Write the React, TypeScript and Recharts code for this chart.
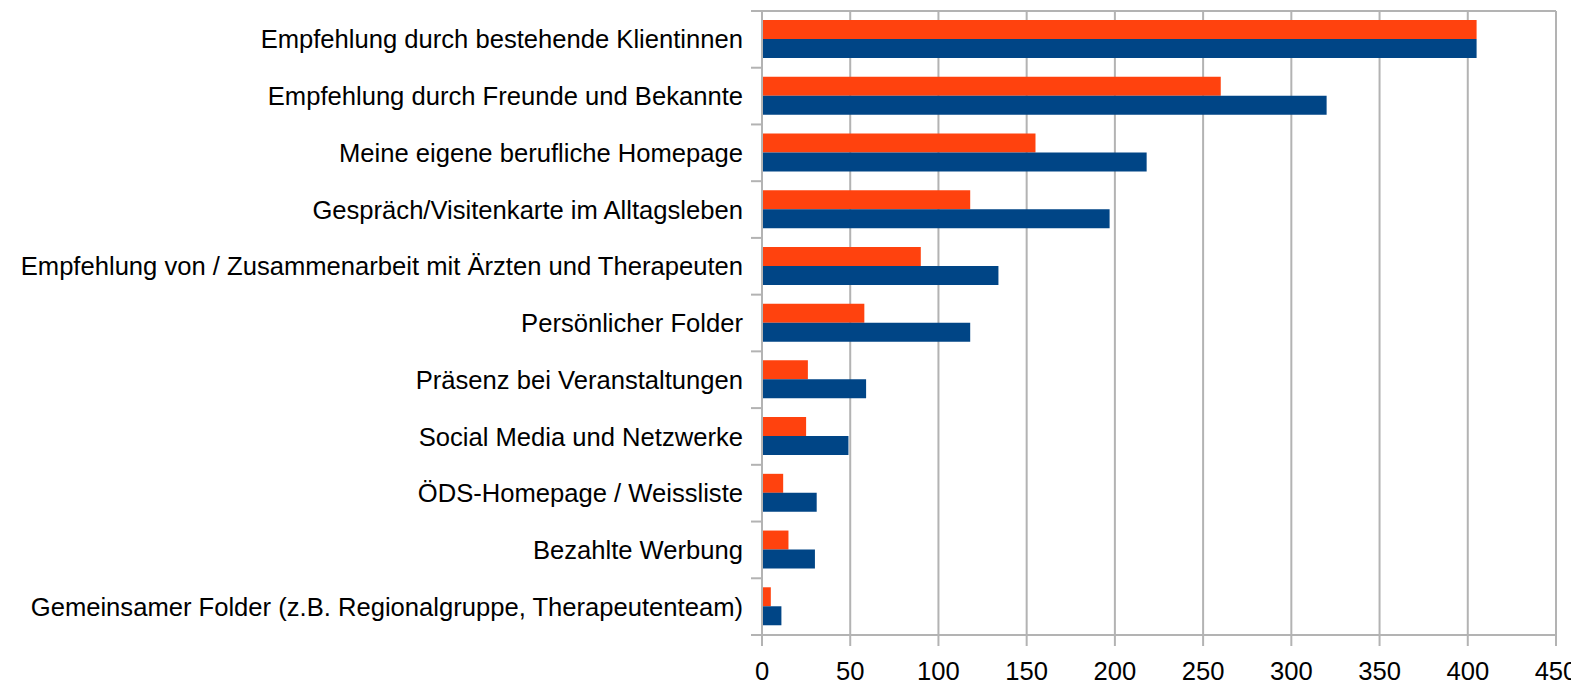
import React from "react";
import { BarChart, Bar, XAxis, YAxis, CartesianGrid } from "recharts";

const categories = [
  "Empfehlung durch bestehende Klientinnen",
  "Empfehlung durch Freunde und Bekannte",
  "Meine eigene berufliche Homepage",
  "Gespräch/Visitenkarte im Alltagsleben",
  "Empfehlung von / Zusammenarbeit mit Ärzten und Therapeuten",
  "Persönlicher Folder",
  "Präsenz bei Veranstaltungen",
  "Social Media und Netzwerke",
  "ÖDS-Homepage / Weissliste",
  "Bezahlte Werbung",
  "Gemeinsamer Folder (z.B. Regionalgruppe, Therapeutenteam)",
];
const seriesOrange = [405, 260, 155, 118, 90, 58, 26, 25, 12, 15, 5];
const seriesBlue = [405, 320, 218, 197, 134, 118, 59, 49, 31, 30, 11];
const xTicks = [0, 50, 100, 150, 200, 250, 300, 350, 400, 450];

const data = categories.map((c, i) => ({ label: c, a: seriesOrange[i], b: seriesBlue[i] }));

const GRID = "#b3b3b3";
const FONT = "'Liberation Sans', Arial, sans-serif";
const FS = 25.6;
const TICK_SIZE = 11;
const TICK_MARGIN = 8;

const CatTick = (props: any) => {
  const { x, y, payload, index, visibleTicksCount } = props;
  const half = payload && payload.offset ? payload.offset : 0;
  const lx1 = x + TICK_MARGIN;
  const lx2 = x + TICK_MARGIN + TICK_SIZE;
  return (
    <g>
      <line x1={lx1} x2={lx2} y1={y - half} y2={y - half} stroke={GRID} strokeWidth={2} />
      {index === visibleTicksCount - 1 ? (
        <line x1={lx1} x2={lx2} y1={y + half} y2={y + half} stroke={GRID} strokeWidth={2} />
      ) : null}
      <text x={x} y={y} dy="0.355em" textAnchor="end" fill="#000" fontSize={FS} fontFamily={FONT}>
        {payload.value}
      </text>
    </g>
  );
};

export default function App() {
  return (
    <div style={{ width: 1571, height: 676, background: "#fff" }}>
      <BarChart
        width={1571}
        height={676}
        data={data}
        layout="vertical"
        margin={{ top: 3, right: 23, bottom: 0, left: 0 }}
        barCategoryGap="33%"
        barGap={0}
      >
        <CartesianGrid
          stroke={GRID}
          strokeWidth={2}
          horizontalCoordinatesGenerator={(p: any) => [p.offset.top]}
        />
        <XAxis
          type="number"
          domain={[0, 450]}
          ticks={xTicks}
          interval={0}
          height={49}
          stroke={GRID}
          axisLine={{ stroke: GRID, strokeWidth: 2 }}
          tickLine={{ stroke: GRID, strokeWidth: 2 }}
          tickSize={11}
          tickMargin={16}
          tick={{ fill: "#000", fontSize: FS, fontFamily: FONT }}
        />
        <YAxis
          type="category"
          dataKey="label"
          width={754}
          interval={0}
          tickLine={false}
          tickSize={TICK_SIZE}
          tickMargin={TICK_MARGIN}
          axisLine={{ stroke: GRID, strokeWidth: 2 }}
          tick={<CatTick />}
        />
        <Bar dataKey="a" fill="#ff420e" barSize={19} isAnimationActive={false} />
        <Bar dataKey="b" fill="#004586" barSize={19} isAnimationActive={false} />
      </BarChart>
    </div>
  );
}
